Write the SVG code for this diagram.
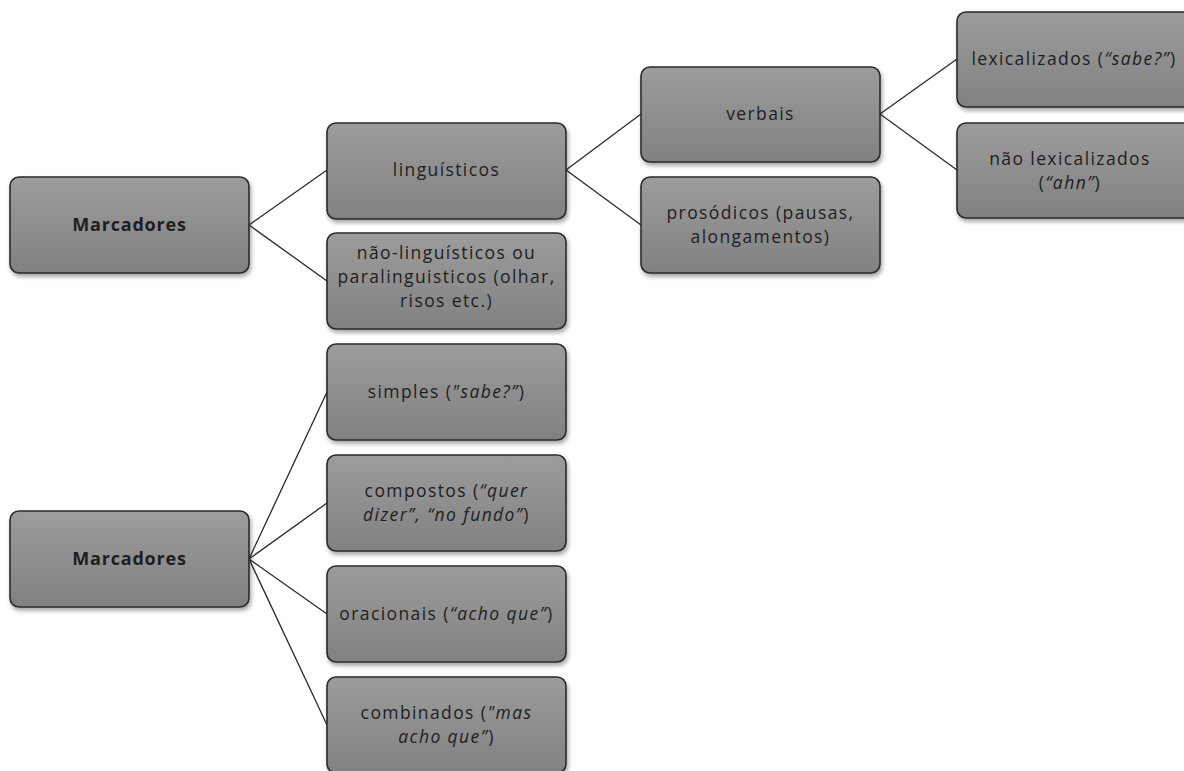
<svg xmlns="http://www.w3.org/2000/svg" width="1184" height="771" viewBox="0 0 1184 771">
<defs>
<linearGradient id="g" x1="0" y1="0" x2="0" y2="1">
<stop offset="0" stop-color="#9c9c9c"/>
<stop offset="1" stop-color="#818181"/>
</linearGradient>
<filter id="sh" x="-10%" y="-10%" width="125%" height="130%">
<feDropShadow dx="1.5" dy="3" stdDeviation="2" flood-color="#000" flood-opacity="0.35"/>
</filter>
</defs>
<style>
.box{fill:url(#g);stroke:#2a2a2a;stroke-width:1.6;filter:url(#sh)}
.t{font-family:"Open Sans","Noto Sans",sans-serif;font-size:17.5px;fill:#1e1e1e;text-anchor:middle;letter-spacing:1.4px}
.b{font-weight:bold;font-size:18px;letter-spacing:0.8px}
.i{font-style:italic}
.c{stroke:#2a2a2a;stroke-width:1.3;fill:none}
</style>
<rect width="1184" height="771" fill="#fff"/>
<g id="connectors">
<line class="c" x1="249" y1="225" x2="327" y2="170"/>
<line class="c" x1="249" y1="225" x2="327" y2="281"/>
<line class="c" x1="566" y1="170" x2="641" y2="114"/>
<line class="c" x1="566" y1="170" x2="641" y2="225"/>
<line class="c" x1="880" y1="114" x2="957" y2="59"/>
<line class="c" x1="880" y1="114" x2="957" y2="170"/>
<line class="c" x1="249" y1="559" x2="327" y2="392"/>
<line class="c" x1="249" y1="559" x2="327" y2="503"/>
<line class="c" x1="249" y1="559" x2="327" y2="614"/>
<line class="c" x1="249" y1="559" x2="327" y2="725"/>
</g>
<g id="n-marcadores1"><rect class="box" x="10" y="177" width="239" height="96" rx="9"/><text class="t b" x="129.5" y="231">Marcadores</text></g>
<g id="n-linguisticos"><rect class="box" x="327" y="123" width="239" height="96" rx="9"/><text class="t" x="446.5" y="176">linguísticos</text></g>
<g id="n-naoling"><rect class="box" x="327" y="233" width="239" height="96" rx="9"/><text class="t" x="446.5" y="259">não-linguísticos ou</text><text class="t" x="446.5" y="283">paralinguisticos (olhar,</text><text class="t" x="446.5" y="307">risos etc.)</text></g>
<g id="n-verbais"><rect class="box" x="641" y="67" width="239" height="95" rx="9"/><text class="t" x="760.5" y="120">verbais</text></g>
<g id="n-prosodicos"><rect class="box" x="641" y="177" width="239" height="96" rx="9"/><text class="t" x="760.5" y="219">prosódicos (pausas,</text><text class="t" x="760.5" y="243">alongamentos)</text></g>
<g id="n-lexicalizados"><rect class="box" x="957" y="12" width="239" height="95" rx="9"/><text class="t" x="1074" y="65">lexicalizados (<tspan class="i">“sabe?”</tspan>)</text></g>
<g id="n-naolex"><rect class="box" x="957" y="123" width="239" height="95" rx="9"/><text class="t" x="1070" y="165">não lexicalizados</text><text class="t" x="1070" y="189">(<tspan class="i">“ahn”</tspan>)</text></g>
<g id="n-marcadores2"><rect class="box" x="10" y="511" width="239" height="96" rx="9"/><text class="t b" x="129.5" y="565">Marcadores</text></g>
<g id="n-simples"><rect class="box" x="327" y="344" width="239" height="96" rx="9"/><text class="t" x="446.5" y="398">simples (<tspan class="i">"sabe?”</tspan>)</text></g>
<g id="n-compostos"><rect class="box" x="327" y="455" width="239" height="96" rx="9"/><text class="t" x="446.5" y="497">compostos (<tspan class="i">“quer</tspan></text><text class="t" x="446.5" y="521"><tspan class="i">dizer”, “no fundo”</tspan>)</text></g>
<g id="n-oracionais"><rect class="box" x="327" y="566" width="239" height="96" rx="9"/><text class="t" x="446.5" y="620">oracionais (<tspan class="i">“acho que”</tspan>)</text></g>
<g id="n-combinados"><rect class="box" x="327" y="677" width="239" height="96" rx="9"/><text class="t" x="446.5" y="719">combinados (<tspan class="i">"mas</tspan></text><text class="t" x="446.5" y="743"><tspan class="i">acho que”</tspan>)</text></g>
</svg>
